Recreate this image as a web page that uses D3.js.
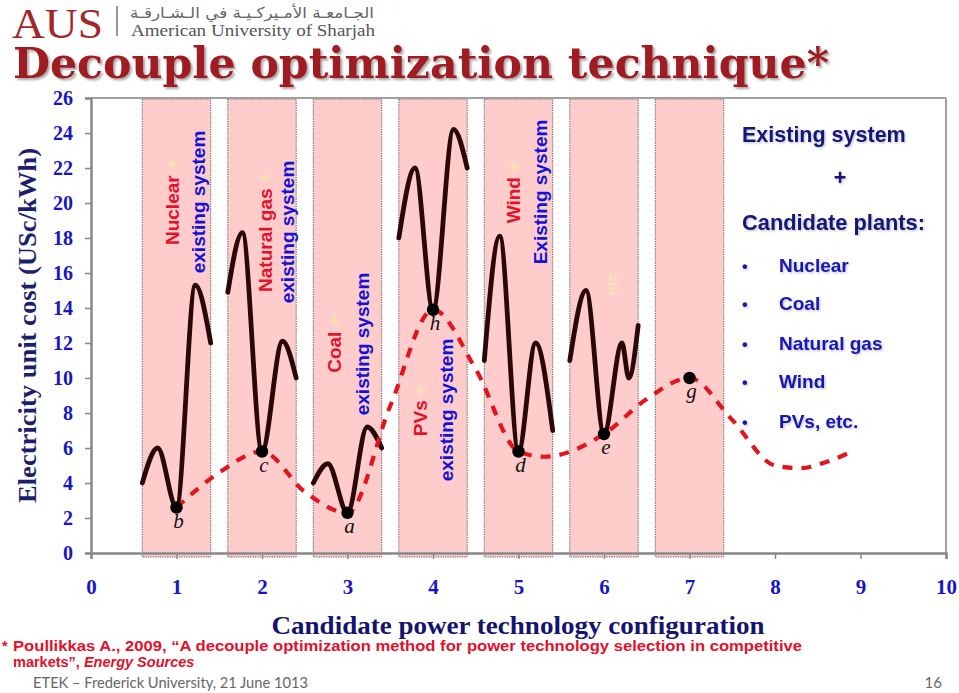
<!DOCTYPE html>
<html>
<head>
<meta charset="utf-8">
<script src="https://cdn.jsdelivr.net/npm/d3@7"></script>
<style>
  html, body { margin: 0; padding: 0; background: #fff; }
  svg { display: block; }
</style>
</head>
<body>
<svg id="chart" width="959" height="693"></svg>
<script>
// ---------------- DATA ----------------
const xTicks = [0, 1, 2, 3, 4, 5, 6, 7, 8, 9, 10];
const yTicks = [0, 2, 4, 6, 8, 10, 12, 14, 16, 18, 20, 22, 24, 26];

const configX = [1, 2, 3, 4, 5, 6, 7];
const configName = ["Nuclear", "Natural gas", "Coal", "PVs", "Wind", "", ""];
const systemText = ["existing system", "existing system", "existing system", "existing system", "Existing system", "", ""];

const optimumY = [2.6, 5.8, 2.3, 13.9, 5.8, 6.8, 10.0];
const optimumLabel = ["b", "c", "a", "h", "d", "e", "g"];

const nuclearX = [0.6, 0.78, 1.0, 1.22, 1.4];
const nuclearY = [4.0, 6.0, 2.6, 15.3, 12.0];
const gasX = [1.6, 1.77, 2.0, 2.24, 2.4];
const gasY = [14.9, 18.3, 5.8, 12.1, 10.0];
const coalX = [2.6, 2.77, 3.0, 3.23, 3.4];
const coalY = [4.0, 5.1, 2.3, 7.2, 6.0];
const pvX = [3.6, 3.79, 4.0, 4.24, 4.4];
const pvY = [18.0, 22.0, 13.9, 24.2, 22.0];
const windX = [4.6, 4.78, 5.0, 5.2, 5.4];
const windY = [11.0, 18.1, 5.8, 12.0, 7.0];
const etcX = [5.6, 5.79, 6.0, 6.21, 6.29, 6.4];
const etcY = [11.0, 15.0, 6.8, 12.0, 10.0, 13.0];

const trendX = [1, 1.5, 2, 2.5, 3, 3.5, 4, 4.5, 5, 5.3, 6, 6.5, 7, 7.5, 8, 8.3, 8.6, 8.9];
const trendY = [2.6, 4.6, 5.8, 3.5, 2.3, 8.4, 13.9, 10.5, 5.8, 5.5, 6.8, 8.8, 10.0, 7.6, 5.0, 4.85, 5.2, 5.8];

const legendHead = ["Existing system", "+", "Candidate plants:"];
const legendItems = ["Nuclear", "Coal", "Natural gas", "Wind", "PVs, etc."];

const titleText = "Decouple optimization technique*";
const yTitle = "Electricity unit cost (USc/kWh)";
const xTitle = "Candidate power technology configuration";

// ---------------- SETUP ----------------
const svg = d3.select("#chart");
const defs = svg.append("defs");
const f1 = defs.append("filter").attr("id", "shadow").attr("x", "-5%").attr("y", "-20%").attr("width", "110%").attr("height", "140%");
f1.append("feDropShadow").attr("dx", 2).attr("dy", 2).attr("stdDeviation", 1.2).attr("flood-color", "#000").attr("flood-opacity", 0.35);
const f2 = defs.append("filter").attr("id", "soft").attr("x", "-5%").attr("y", "-20%").attr("width", "110%").attr("height", "140%");
f2.append("feDropShadow").attr("dx", 1.2).attr("dy", 1.2).attr("stdDeviation", 0.8).attr("flood-color", "#000").attr("flood-opacity", 0.25);

const x = d3.scaleLinear().domain([0, 10]).range([91, 946]);
const y = d3.scaleLinear().domain([0, 26]).range([553, 98]);

// ---------------- HEADER ----------------
svg.append("text").attr("x", 12).attr("y", 38)
  .attr("font-family", "'Liberation Serif', serif").attr("font-size", 42)
  .attr("fill", "#a3262a").attr("textLength", 91).attr("lengthAdjust", "spacingAndGlyphs")
  .text("AUS");
svg.append("line").attr("x1", 117).attr("x2", 117).attr("y1", 6).attr("y2", 36)
  .attr("stroke", "#777").attr("stroke-width", 1.5);
svg.append("text").attr("x", 252).attr("y", 18)
  .attr("font-family", "'DejaVu Sans', sans-serif").attr("font-size", 15)
  .attr("fill", "#666").attr("text-anchor", "middle").attr("direction", "rtl")
  .attr("textLength", 244).attr("lengthAdjust", "spacingAndGlyphs")
  .text("الجـامعـة الأمـيركـيـة في الـشـارقـة");
svg.append("text").attr("x", 131).attr("y", 36)
  .attr("font-family", "'Liberation Serif', serif").attr("font-size", 16.5)
  .attr("fill", "#555").attr("textLength", 244).attr("lengthAdjust", "spacingAndGlyphs")
  .text("American University of Sharjah");

svg.append("text").attr("x", 13).attr("y", 78)
  .attr("font-family", "'DejaVu Serif', serif").attr("font-weight", "bold").attr("font-size", 43)
  .attr("fill", "#9e1b20").attr("filter", "url(#shadow)")
  .attr("textLength", 816).attr("lengthAdjust", "spacingAndGlyphs")
  .text(titleText);

// ---------------- PINK BOXES ----------------
const boxes = svg.append("g");
configX.forEach(c => {
  boxes.append("rect")
    .attr("x", x(c - 0.4)).attr("y", y(26) + 1)
    .attr("width", x(c + 0.4) - x(c - 0.4)).attr("height", y(0) + 4 - y(26) - 1)
    .attr("fill", "#ffcccc").attr("stroke", "#555").attr("stroke-width", 1)
    .attr("stroke-dasharray", "1.2,1.2");
});

// ---------------- FRAME & AXES ----------------
svg.append("line").attr("x1", x(0)).attr("x2", x(10)).attr("y1", y(26)).attr("y2", y(26))
  .attr("stroke", "#a0a0a0").attr("stroke-width", 2);
svg.append("line").attr("x1", x(10)).attr("x2", x(10)).attr("y1", y(26)).attr("y2", y(0))
  .attr("stroke", "#a0a0a0").attr("stroke-width", 2);

const yAxis = d3.axisLeft(y).tickValues(yTicks).tickSize(6).tickPadding(12).tickFormat(d3.format("d"));
const gy = svg.append("g").attr("transform", `translate(${x(0)},0)`).call(yAxis);
gy.select(".domain").attr("stroke", "#888").attr("stroke-width", 2.5);
gy.selectAll(".tick line").attr("stroke", "#888").attr("stroke-width", 1.5);
gy.selectAll(".tick text")
  .attr("font-family", "'Liberation Serif', serif").attr("font-weight", "bold")
  .attr("font-size", 20).attr("fill", "#1616c8");

const xAxis = d3.axisBottom(x).tickValues(xTicks).tickSize(6).tickPadding(20).tickFormat(d3.format("d"));
const gx = svg.append("g").attr("transform", `translate(0,${y(0)})`).call(xAxis);
gx.select(".domain").attr("stroke", "#888").attr("stroke-width", 2.5);
gx.selectAll(".tick line").attr("stroke", "#888").attr("stroke-width", 1.5);
gx.selectAll(".tick text")
  .attr("font-family", "'Liberation Serif', serif").attr("font-weight", "bold")
  .attr("font-size", 21).attr("fill", "#1616c8");

// axis titles
svg.append("text")
  .attr("transform", `translate(36,${y(13)}) rotate(-90)`)
  .attr("text-anchor", "middle")
  .attr("font-family", "'Liberation Serif', serif").attr("font-weight", "bold").attr("font-size", 25)
  .attr("fill", "#1c1f6e").attr("textLength", 355).attr("lengthAdjust", "spacingAndGlyphs")
  .text(yTitle);

svg.append("text").attr("x", 518).attr("y", 634).attr("text-anchor", "middle")
  .attr("font-family", "'Liberation Serif', serif").attr("font-weight", "bold").attr("font-size", 26)
  .attr("fill", "#14146e").attr("textLength", 493).attr("lengthAdjust", "spacingAndGlyphs")
  .text(xTitle);

// ---------------- ROTATED BOX LABELS ----------------
const labelCols = [[172, 198, 202], [265, 287, 232], [334, 362, 344], [420, 446, 410], [513, 540, 192]];
configName.forEach((name, i) => {
  if (!name) return;
  const [cx1, cx2, cy] = labelCols[i];
  const t1 = svg.append("text")
    .attr("transform", `translate(${cx1},${cy}) rotate(-90)`)
    .attr("text-anchor", "middle").attr("dy", "0.36em")
    .attr("font-family", "'Liberation Sans', Arial, sans-serif").attr("font-weight", "bold")
    .attr("font-size", 19);
  t1.append("tspan").attr("fill", "#e8102a").text(name);
  t1.append("tspan").attr("fill", "#f3e3a8").text(" +");
  svg.append("text")
    .attr("transform", `translate(${cx2},${cy}) rotate(-90)`)
    .attr("text-anchor", "middle").attr("dy", "0.36em")
    .attr("font-family", "'Liberation Sans', Arial, sans-serif").attr("font-weight", "bold")
    .attr("font-size", 19).attr("fill", "#1212d8")
    .text(systemText[i]);
});
// faint "etc." in the sixth box
svg.append("text")
  .attr("transform", `translate(612,282) rotate(-90)`)
  .attr("text-anchor", "middle").attr("dy", "0.36em")
  .attr("font-family", "'Liberation Sans', Arial, sans-serif").attr("font-weight", "bold")
  .attr("font-size", 15).attr("fill", "#f3e3b0").text("etc.");

// ---------------- CURVES ----------------
const line = d3.line().x(d => x(d[0])).y(d => y(d[1])).curve(d3.curveMonotoneX);
const curves = [[nuclearX, nuclearY], [gasX, gasY], [coalX, coalY], [pvX, pvY], [windX, windY], [etcX, etcY]];
curves.forEach(([xs, ys]) => {
  svg.append("path").datum(xs.map((v, i) => [v, ys[i]]))
    .attr("d", line).attr("fill", "none")
    .attr("stroke", "#2b0808").attr("stroke-width", 4.8)
    .attr("stroke-linecap", "round").attr("stroke-linejoin", "round");
});

svg.append("path").datum(trendX.map((v, i) => [v, trendY[i]]))
  .attr("d", line).attr("fill", "none")
  .attr("stroke", "#e4141e").attr("stroke-width", 4.2)
  .attr("stroke-dasharray", "10,9");

// optimum points
configX.forEach((c, i) => {
  svg.append("circle").attr("cx", x(c)).attr("cy", y(optimumY[i])).attr("r", 6.2).attr("fill", "#000");
  svg.append("text").attr("x", x(c) + 2).attr("y", y(optimumY[i]) + 20)
    .attr("text-anchor", "middle")
    .attr("font-family", "'Liberation Serif', serif").attr("font-style", "italic")
    .attr("font-size", 21).attr("fill", "#111")
    .text(optimumLabel[i]);
});

// ---------------- LEGEND TEXT ----------------
const lg = svg.append("g").attr("filter", "url(#soft)")
  .attr("font-family", "'Liberation Sans', Arial, sans-serif").attr("font-weight", "bold");
lg.append("text").attr("x", 742).attr("y", 142).attr("font-size", 21.5).attr("fill", "#15157a").text(legendHead[0]);
lg.append("text").attr("x", 840).attr("y", 185).attr("text-anchor", "middle").attr("font-size", 21.5).attr("fill", "#15157a").text(legendHead[1]);
lg.append("text").attr("x", 742).attr("y", 230).attr("font-size", 21.5).attr("fill", "#15157a")
  .attr("textLength", 183).attr("lengthAdjust", "spacingAndGlyphs").text(legendHead[2]);
const itemBase = [272, 310, 350, 388, 428];
legendItems.forEach((t, i) => {
  lg.append("text").attr("x", 742).attr("y", itemBase[i]).attr("font-size", 16).attr("fill", "#1515b4").text("•");
  lg.append("text").attr("x", 779).attr("y", itemBase[i]).attr("font-size", 19).attr("fill", "#1515b4").text(t);
});

// ---------------- FOOTNOTE ----------------
const fn = svg.append("g").attr("font-family", "'Liberation Sans', Arial, sans-serif")
  .attr("font-weight", "bold").attr("fill", "#e3102c");
fn.append("text").attr("x", 2).attr("y", 651).attr("font-size", 14.5).text("*");
fn.append("text").attr("x", 13).attr("y", 651).attr("font-size", 14.5)
  .attr("textLength", 789).attr("lengthAdjust", "spacingAndGlyphs")
  .text("Poullikkas A., 2009, “A decouple optimization method for power technology selection in competitive");
const l2 = fn.append("text").attr("x", 13).attr("y", 667).attr("font-size", 14.5);
l2.append("tspan").text("markets”, ");
l2.append("tspan").attr("font-style", "italic").text("Energy Sources");

svg.append("text").attr("x", 33).attr("y", 688)
  .attr("font-family", "Lato, 'Open Sans', sans-serif").attr("font-size", 15).attr("fill", "#666")
  .attr("textLength", 275).attr("lengthAdjust", "spacingAndGlyphs")
  .text("ETEK – Frederick University, 21 June 1013");
svg.append("text").attr("x", 942).attr("y", 688).attr("text-anchor", "end")
  .attr("font-family", "Lato, 'Open Sans', sans-serif").attr("font-size", 15).attr("fill", "#666")
  .text("16");
</script>
</body>
</html>
